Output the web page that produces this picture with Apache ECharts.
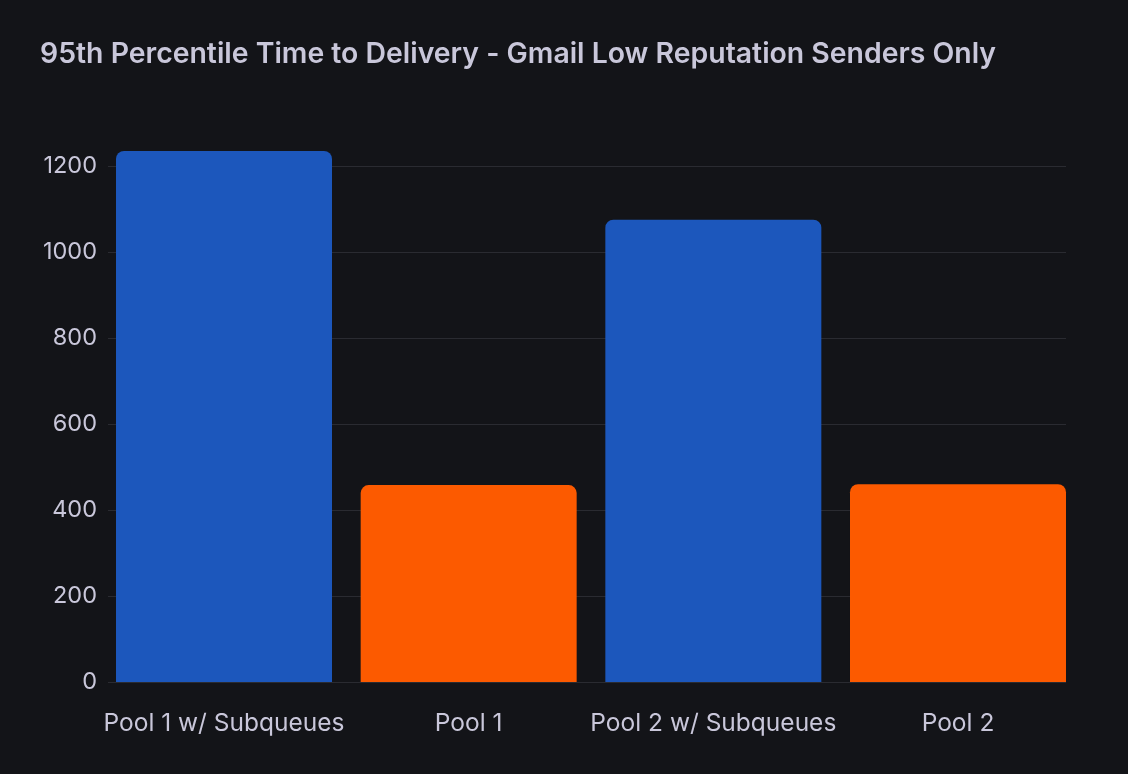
<!DOCTYPE html>
<html>
<head>
<meta charset="utf-8">
<script src="https://cdn.jsdelivr.net/npm/echarts@6/dist/echarts.min.js"></script>
<style>
  html, body { margin: 0; padding: 0; background: #131418; }
  #chart { width: 1128px; height: 774px; }
</style>
</head>
<body>
<div id="chart"></div>
<script>
var categories = ['Pool 1 w/ Subqueues', 'Pool 1', 'Pool 2 w/ Subqueues', 'Pool 2'];
var deliveryTimes = [1235, 458, 1075, 460];
var barColors = ['#1c57bc', '#fc5a00', '#1c57bc', '#fc5a00'];
var yTicks = { min: 0, max: 1200, step: 200 };

var textColor = '#c9c7da';
var chart = echarts.init(document.getElementById('chart'));

chart.setOption({
  backgroundColor: '#131418',
  animation: false,
  textStyle: { fontFamily: 'Inter' },
  title: {
    text: '95th Percentile Time to Delivery - Gmail Low Reputation Senders Only',
    left: 35,
    top: 35,
    textStyle: { color: textColor, fontSize: 28.4, fontWeight: 600, fontFamily: 'Inter' }
  },
  grid: [
    // grid for the gridlines and y labels
    { left: 108, right: 62, top: 166, bottom: 92 },
    // grid for the bars (wider so bars sit flush with the gridline ends)
    { left: 101.67, right: 47.67, top: 166, bottom: 92 }
  ],
  xAxis: [
    { type: 'category', gridIndex: 0, data: categories, show: false },
    {
      type: 'category', gridIndex: 1, data: categories,
      axisLine: { show: false },
      axisTick: { show: false },
      axisLabel: { interval: 0, color: textColor, fontSize: 24.5, margin: 29, fontFamily: 'Inter' }
    }
  ],
  yAxis: [
    {
      type: 'value', gridIndex: 0,
      min: yTicks.min, max: yTicks.max, interval: yTicks.step,
      axisLine: { show: false },
      axisTick: { show: false },
      axisLabel: {
        color: textColor, fontSize: 23.5, margin: 11, fontFamily: 'Inter',
        formatter: function (v) { return String(v); }
      },
      splitLine: { lineStyle: { color: '#2a2b31', width: 1 } }
    },
    {
      type: 'value', gridIndex: 1,
      min: yTicks.min, max: yTicks.max, interval: yTicks.step,
      show: false,
      splitLine: { show: false }
    }
  ],
  series: [{
    type: 'bar',
    xAxisIndex: 1,
    yAxisIndex: 1,
    clip: false,
    barWidth: 216,
    data: deliveryTimes.map(function (v, i) {
      return { value: v, itemStyle: { color: barColors[i] } };
    }),
    itemStyle: { borderRadius: [8, 8, 0, 0] }
  }]
});
</script>
</body>
</html>
